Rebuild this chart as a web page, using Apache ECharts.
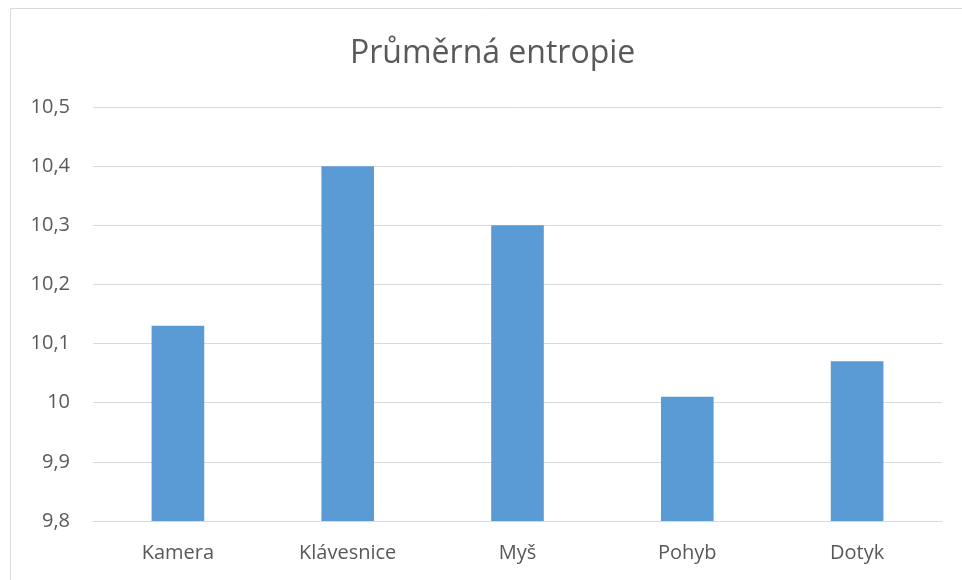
<!DOCTYPE html>
<html><head><meta charset="utf-8">
<script src="https://cdn.jsdelivr.net/npm/echarts@6/dist/echarts.min.js"></script>
<style>html,body{margin:0;padding:0;background:#fff}#c{width:962px;height:580px}</style>
</head><body><div id="c"></div>
<script>
const categories = ['Kamera', 'Klávesnice', 'Myš', 'Pohyb', 'Dotyk'];
const values = [10.13, 10.40, 10.30, 10.01, 10.07];
const titleText = 'Průměrná entropie';
const chart = echarts.init(document.getElementById('c'));
const font = '"Open Sans", "Liberation Sans", sans-serif';
chart.setOption({
  animation: false,
  title: { text: titleText, left: 345, top: 33, textStyle: { fontFamily: font, fontSize: 32, fontWeight: 'normal', color: '#595959' } },
  graphic: [{ type: 'rect', shape: { x: 10.5, y: 8.5, width: 1200, height: 1200 }, style: { fill: 'none', stroke: '#d9d9d9', lineWidth: 1 }, silent: true }],
  grid: { left: 93, right: 20, top: 107, bottom: 59, containLabel: false },
  xAxis: {
    type: 'category', data: categories,
    axisLine: { lineStyle: { color: '#d9d9d9', width: 1 } },
    axisTick: { show: false },
    axisLabel: { color: '#595959', fontFamily: font, fontSize: 20, margin: 22 }
  },
  yAxis: {
    type: 'value', min: 9.8, max: 10.5, interval: 0.1,
    axisLine: { show: false }, axisTick: { show: false },
    splitLine: { lineStyle: { color: '#d9d9d9', width: 1 } },
    axisLabel: { color: '#595959', fontFamily: font, fontSize: 20, margin: 23,
      formatter: v => (Math.round(v * 10) / 10).toString().replace('.', ',') }
  },
  series: [{ type: 'bar', data: values, barWidth: '31%', itemStyle: { color: '#5b9bd5' } }]
});
</script></body></html>
